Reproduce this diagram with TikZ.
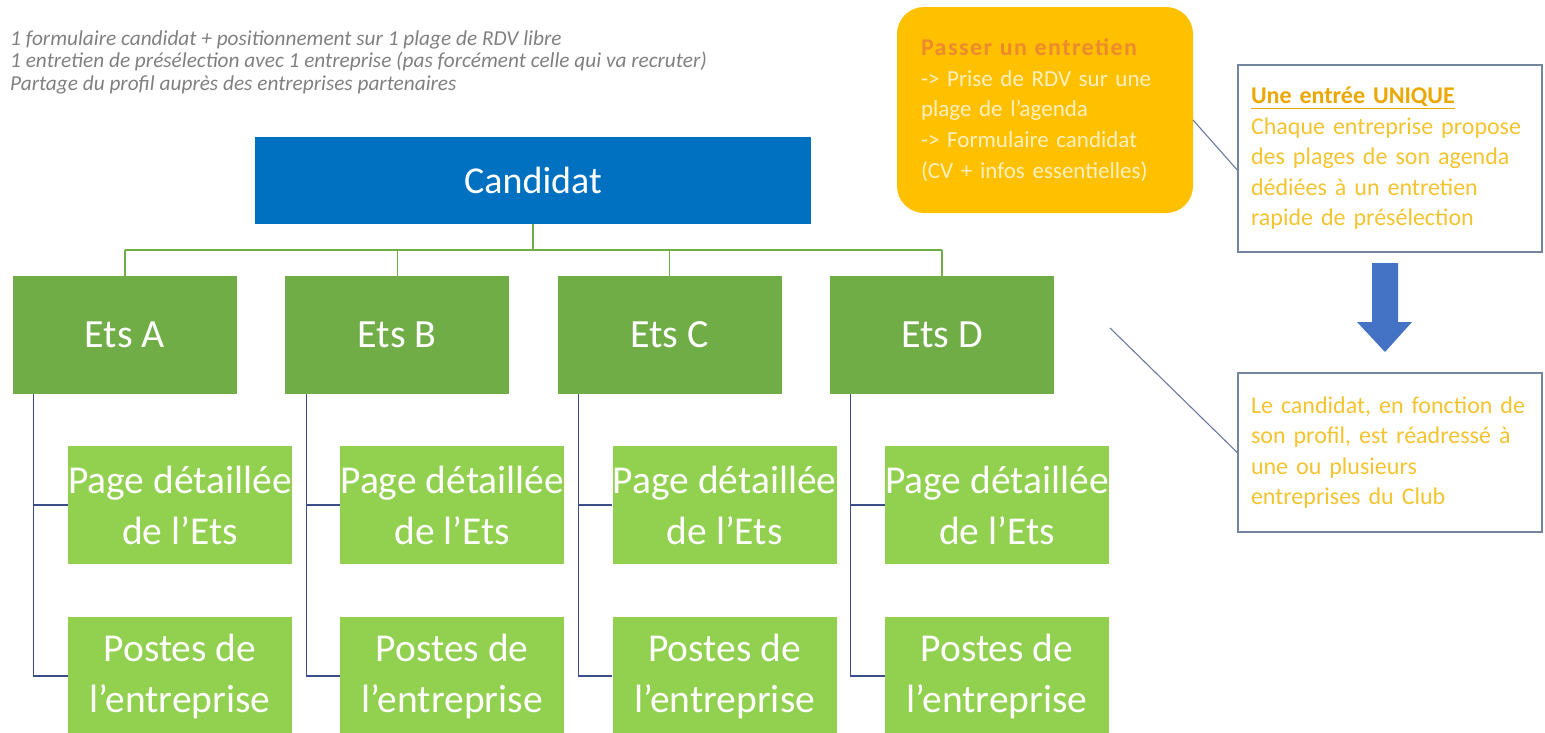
\documentclass[tikz,border=0pt]{standalone}
\usepackage{fontspec}
\setmainfont{Carlito}
\definecolor{cblue}{HTML}{0070C0}
\definecolor{egreen}{HTML}{70AD47}
\definecolor{lgreen}{HTML}{92D050}
\definecolor{navy}{HTML}{3A4F8A}
\definecolor{dgray}{HTML}{6A7AA0}
\definecolor{boxline}{HTML}{7585A0}
\definecolor{orangebox}{HTML}{FFC000}
\definecolor{orangetitle}{HTML}{EE8A2E}
\definecolor{cream}{HTML}{FFF0C0}
\definecolor{goldtitle}{HTML}{EAA800}
\definecolor{goldtext}{HTML}{F4C430}
\definecolor{arrowblue}{HTML}{4472C4}
\definecolor{graytext}{HTML}{808080}
\begin{document}
\begin{tikzpicture}[x=1pt,y=-1pt,
  candbox/.style={fill=cblue, text=white, minimum width=556pt, minimum height=87pt, inner sep=0pt, font=\fontsize{38}{44}\selectfont},
  etsbox/.style={fill=egreen, text=white, minimum width=224pt, minimum height=118pt, inner sep=0pt, font=\fontsize{40}{44}\selectfont},
  subbox/.style={fill=lgreen, text=white, minimum width=224pt, minimum height=118pt, inner sep=0pt, align=center, font=\fontsize{39.5}{51}\selectfont},
  treeline/.style={draw=egreen, line width=1.3pt},
  subline/.style={draw=navy, line width=1.2pt},
  noteline/.style={draw=dgray, line width=1.1pt},
  notebox/.style={draw=boxline, line width=1.5pt, fill=white, text=goldtext, minimum width=304pt, inner xsep=13pt, inner ysep=0pt, text width=278pt, align=left, font=\fontsize{24}{30.5}\selectfont},
  bubble/.style={fill=orangebox, rounded corners=27pt, text=cream, minimum width=296pt, minimum height=206pt, inner xsep=24pt, inner ysep=0pt, text width=248pt, align=left, font=\fontsize{23}{30.7}\selectfont}
]
\useasboundingbox (0,0) rectangle (1545,732);
\clip (0,0) rectangle (1545,732);

% header notes (anchor base = last line)
\node[anchor=base west, inner sep=0pt, align=left, text=graytext, font=\fontsize{21.3}{22.5}\selectfont\itshape] (hdr) at (10,90)
  {1 formulaire candidat + positionnement sur 1 plage de RDV libre\\
   1 entretien de présélection avec 1 entreprise (pas forcément celle qui va recruter)\\
   Partage du profil auprès des entreprises partenaires};

% tree
\node[candbox] (cand) at (533,180.5) {Candidat};
\foreach \n/\l [count=\i from 0] in {a/A,b/B,c/C,d/D}{
  \node[etsbox] (e\n) at (125+272.3*\i,335) {Ets \l};
  \node[subbox] (p\n) at (180+272.3*\i,505) {Page détaillée\\de l’Ets};
  \node[subbox] (q\n) at (180+272.3*\i,676) {Postes de\\l’entreprise};
  \draw[subline] ([xshift=21pt]e\n.south west) |- (p\n.west);
  \draw[subline] ([xshift=21pt]e\n.south west) |- (q\n.west);
}
\coordinate (bus) at (533,250);
\draw[treeline] (cand.south) -- (bus);
\draw[treeline] (ea.north |- bus) -- (ed.north |- bus);
\foreach \n in {a,b,c,d}{\draw[treeline] (e\n.north |- bus) -- (e\n.north);}

% orange bubble
\node[bubble] (ob) at (1045,110)
  {{\fontsize{24}{30.7}\selectfont\bfseries\addfontfeature{LetterSpace=6}\color{orangetitle}Passer un entretien}\\
   -> Prise de RDV sur une\\
   plage de l’agenda\\
   -> Formulaire candidat\\
   (CV + infos essentielles)};

% right notes
\node[notebox, minimum height=187pt] (n1) at (1390,158.5)
  {{\color{goldtitle}\bfseries\underline{Une entrée UNIQUE}}\\
   Chaque entreprise propose\\
   des plages de son agenda\\
   dédiées à un entretien\\
   rapide de présélection};
\node[notebox, minimum height=159pt] (n2) at (1390,452.5)
  {Le candidat, en fonction de\\
   son profil, est réadressé à\\
   une ou plusieurs\\
   entreprises du Club};

% blue arrow
\fill[arrowblue] (1372,263) -- (1398,263) -- (1398,322) -- (1412,322) -- (1385,352) -- (1357,322) -- (1372,322) -- cycle;

% note connectors
\coordinate (o1) at (1193,120);
\coordinate (o2) at (1110,328);
\draw[noteline] (o1) -- (n1.west |- 0,170);
\draw[noteline] (o2) -- (n2.west);
\end{tikzpicture}
\end{document}
